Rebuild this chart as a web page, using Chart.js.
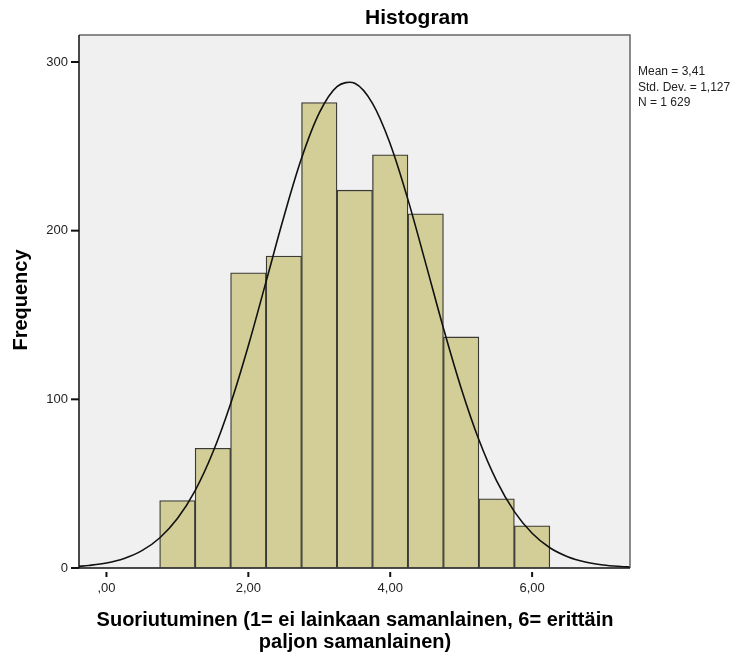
<!DOCTYPE html>
<html>
<head>
<meta charset="utf-8">
<script src="https://cdn.jsdelivr.net/npm/chart.js@4.4.1/dist/chart.umd.min.js"></script>
<style>
html,body{margin:0;padding:0;background:#fff}
#wrap{width:753px;height:653px;position:relative}
</style>
</head>
<body>
<div id="wrap"><canvas id="hist"></canvas></div>
<script>
// bin midpoints (bin width 0,5) and counts
const binMids=[1.0,1.5,2.0,2.5,3.0,3.5,4.0,4.5,5.0,5.5,6.0];
const counts=[40,71,175,185,276,224,245,210,137,41,25];
// normal curve as drawn (Mean 3,41, SD 1,127, N 1629)
const curveX=[-0.4,-0.25,0,0.25,0.5,0.75,1.0,1.25,1.5,1.75,2.0,2.25,2.5,2.75,3.0,3.25,3.5,3.75,4.0,4.25,4.5,4.75,5.0,5.25,5.5,5.75,6.0,6.25,6.5,6.75,7.0,7.25,7.4];
const curveY=[0.95,1.48,2.96,5.66,10.27,17.8,29.3,45.9,68.6,97.4,131.8,169.8,208.1,242.9,269.8,285.4,287.4,275.5,251.4,218.4,180.6,142.2,106.6,76.0,51.6,33.4,20.6,12.0,6.72,3.57,1.81,0.87,0.55];
const xTicks=[0,2,4,6];
const yTicks=[0,100,200,300];
const statLines=['Mean = 3,41','Std. Dev. = 1,127','N = 1 629'];
const titleText='Histogram';
const yTitle='Frequency';
const xTitle=['Suoriutuminen (1= ei lainkaan samanlainen, 6= erittäin','paljon samanlainen)'];

const FONT='"Liberation Sans", Arial, sans-serif';

const frame={
  id:'frame',
  beforeDatasetsDraw(c){
    const a=c.chartArea,ctx=c.ctx;
    ctx.save();
    ctx.fillStyle='#f0f0f0';
    ctx.fillRect(a.left,a.top,a.right-a.left,a.bottom-a.top);
    ctx.restore();
  },
  afterDraw(c){
    const a=c.chartArea,ctx=c.ctx,xs=c.scales.x,ys=c.scales.y;
    ctx.save();
    ctx.strokeStyle='#666';ctx.lineWidth=1.5;
    ctx.beginPath();ctx.moveTo(a.left,a.top);ctx.lineTo(a.right,a.top);ctx.lineTo(a.right,a.bottom);ctx.stroke();
    ctx.strokeStyle='#111';ctx.lineWidth=1.5;
    ctx.beginPath();ctx.moveTo(a.left,a.top);ctx.lineTo(a.left,a.bottom);ctx.lineTo(a.right,a.bottom);ctx.stroke();
    ctx.lineWidth=2;
    xTicks.forEach(v=>{const p=xs.getPixelForValue(v);ctx.beginPath();ctx.moveTo(p,a.bottom+4);ctx.lineTo(p,a.bottom+9);ctx.stroke();});
    yTicks.forEach(v=>{const p=ys.getPixelForValue(v);ctx.beginPath();ctx.moveTo(a.left-8,p);ctx.lineTo(a.left,p);ctx.stroke();});
    ctx.fillStyle='#000';
    ctx.textAlign='center';ctx.textBaseline='middle';
    ctx.font='bold 21px '+FONT;
    ctx.fillText(titleText,417,18);
    ctx.font='bold 20px '+FONT;
    xTitle.forEach((t,i)=>ctx.fillText(t,355,620+i*22));
    ctx.save();ctx.translate(21,300);ctx.rotate(-Math.PI/2);ctx.fillText(yTitle,0,0);ctx.restore();
    ctx.textAlign='left';ctx.font='12px '+FONT;ctx.fillStyle='#222';
    statLines.forEach((t,i)=>ctx.fillText(t,638,72+i*15.5));
    ctx.restore();
  }
};

new Chart(document.getElementById('hist'),{
  type:'bar',
  data:{datasets:[
    {type:'line',data:curveX.map((x,i)=>({x,y:curveY[i]})),borderColor:'#111',borderWidth:1.6,pointRadius:0,fill:false,tension:0.35,order:0},
    {type:'bar',data:binMids.map((x,i)=>({x,y:counts[i]})),backgroundColor:'#d3ce97',borderColor:'#3a3a36',borderWidth:1.3,barPercentage:1,categoryPercentage:1,order:1}
  ]},
  options:{
    responsive:true,maintainAspectRatio:false,animation:false,
    layout:{padding:{top:35,right:123,left:0,bottom:0}},
    plugins:{legend:{display:false},tooltip:{enabled:false}},
    scales:{
      x:{type:'linear',min:-0.387,max:7.38,offset:false,
        grid:{display:true,drawOnChartArea:false,drawTicks:false,color:'rgba(0,0,0,0)'},border:{display:false},
        afterBuildTicks:s=>{s.ticks=xTicks.map(v=>({value:v}));},
        afterFit:s=>{s.height=85;},
        ticks:{padding:13,color:'#222',font:{family:FONT,size:13},callback:v=>(v===0?'':String(v))+',00'}},
      y:{min:0,max:316,
        grid:{display:true,drawOnChartArea:false,drawTicks:false,color:'rgba(0,0,0,0)'},border:{display:false},
        afterBuildTicks:s=>{s.ticks=yTicks.map(v=>({value:v}));},
        afterFit:s=>{s.width=79;},
        ticks:{padding:11,color:'#222',font:{family:FONT,size:13}}}
    }
  },
  plugins:[frame]
});
</script>
</body>
</html>
